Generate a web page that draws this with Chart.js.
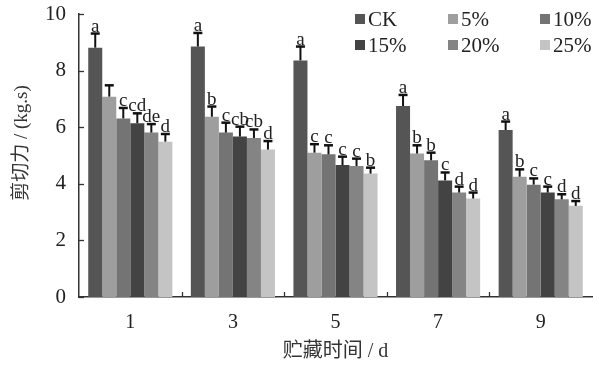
<!DOCTYPE html>
<html>
<head>
<meta charset="utf-8">
<script src="https://cdn.jsdelivr.net/npm/chart.js@4/dist/chart.umd.min.js"></script>
<style>
  html, body { margin: 0; padding: 0; background: #fff; }
  #wrap { width: 599px; height: 365px; position: relative; }
</style>
</head>
<body>
<div id="wrap"><canvas id="chart"></canvas></div>
<script>
const days = ["1", "3", "5", "7", "9"];
const seriesNames = ["CK", "5%", "10%", "15%", "20%", "25%"];
const seriesColors = ["#555555", "#9e9e9e", "#747474", "#434343", "#848484", "#c4c4c4"];

// mean shear force per series, one value per day
const ck   = [8.81, 8.85, 8.36, 6.75, 5.90];
const p5   = [7.08, 6.37, 5.10, 5.07, 4.25];
const p10  = [6.31, 5.81, 5.04, 4.83, 3.97];
const p15  = [6.14, 5.67, 4.66, 4.12, 3.69];
const p20  = [5.81, 5.62, 4.63, 3.69, 3.45];
const p25  = [5.49, 5.21, 4.36, 3.48, 3.22];

// error bar (upper) per series
const ckErr  = [0.50, 0.48, 0.49, 0.39, 0.30];
const p5Err  = [0.40, 0.36, 0.30, 0.29, 0.26];
const p10Err = [0.37, 0.35, 0.32, 0.27, 0.22];
const p15Err = [0.35, 0.35, 0.30, 0.28, 0.21];
const p20Err = [0.30, 0.30, 0.26, 0.21, 0.18];
const p25Err = [0.27, 0.30, 0.21, 0.21, 0.17];

// significance letters
const ckSig  = ["a", "a", "a", "a", "a"];
const p5Sig  = ["", "b", "c", "b", "b"];
const p10Sig = ["c", "c", "c", "b", "c"];
const p15Sig = ["cd", "cb", "c", "c", "c"];
const p20Sig = ["de", "cb", "c", "d", "d"];
const p25Sig = ["d", "d", "b", "d", "d"];

const yTicks = [0, 2, 4, 6, 8, 10];

const values = [ck, p5, p10, p15, p20, p25];
const errors = [ckErr, p5Err, p10Err, p15Err, p20Err, p25Err];
const letters = [ckSig, p5Sig, p10Sig, p15Sig, p20Sig, p25Sig];

const serif = "'Liberation Serif', 'Times New Roman', serif";
const cjk = "'Liberation Serif', 'Noto Sans CJK SC', serif";

const extras = {
  id: "extras",
  afterDatasetsDraw(chart) {
    const ctx = chart.ctx;
    const y = chart.scales.y;
    const area = chart.chartArea;
    ctx.save();

    // error bars + letters
    values.forEach((vals, s) => {
      const meta = chart.getDatasetMeta(s);
      meta.data.forEach((bar, i) => {
        const top = y.getPixelForValue(vals[i]);
        const cap = y.getPixelForValue(vals[i] + errors[s][i]);
        ctx.strokeStyle = "#111";
        ctx.lineWidth = 2;
        ctx.beginPath();
        ctx.moveTo(bar.x, top);
        ctx.lineTo(bar.x, cap);
        ctx.stroke();
        ctx.lineWidth = 2.5;
        ctx.beginPath();
        ctx.moveTo(bar.x - 4.5, cap);
        ctx.lineTo(bar.x + 4.5, cap);
        ctx.stroke();
        if (letters[s][i]) {
          ctx.fillStyle = "#222";
          ctx.font = "19px " + serif;
          ctx.textAlign = "center";
          ctx.textBaseline = "alphabetic";
          ctx.fillText(letters[s][i], bar.x, cap - 2);
        }
      });
    });

    // inward ticks
    ctx.strokeStyle = "#333";
    ctx.lineWidth = 1.3;
    yTicks.forEach(v => {
      const py = Math.round(y.getPixelForValue(v)) + 0.5;
      ctx.beginPath();
      ctx.moveTo(area.left, py);
      ctx.lineTo(area.left + 5, py);
      ctx.stroke();
    });
    const step = (area.right - area.left) / days.length;
    for (let k = 1; k < days.length; k++) {
      const px = Math.round(area.left + step * k) + 0.5;
      ctx.beginPath();
      ctx.moveTo(px, area.bottom);
      ctx.lineTo(px, area.bottom - 5);
      ctx.stroke();
    }

    // legend, 3 columns x 2 rows
    const colX = [355, 448, 540];
    const rowY = [19, 45];
    seriesNames.forEach((name, s) => {
      const cx = colX[s % 3];
      const cy = rowY[Math.floor(s / 3)];
      ctx.fillStyle = seriesColors[s];
      ctx.fillRect(cx, cy - 5, 10, 10);
      ctx.fillStyle = "#222";
      ctx.font = "21px " + serif;
      ctx.textAlign = "left";
      ctx.textBaseline = "middle";
      ctx.fillText(name, cx + 13, cy + 1);
    });

    // axis titles
    ctx.fillStyle = "#333";
    ctx.font = "20px " + cjk;
    ctx.textAlign = "center";
    ctx.textBaseline = "middle";
    ctx.fillText("贮藏时间 / d", (area.left + area.right) / 2, 352);
    ctx.save();
    ctx.translate(22, 143);
    ctx.rotate(-Math.PI / 2);
    ctx.font = "19px " + cjk;
    ctx.fillText("剪切力 / (kg.s)", 0, 0);
    ctx.restore();

    ctx.restore();
  }
};

new Chart(document.getElementById("chart"), {
  type: "bar",
  data: {
    labels: days,
    datasets: seriesNames.map((name, s) => ({
      label: name,
      data: values[s],
      backgroundColor: seriesColors[s],
      borderWidth: 0,
      categoryPercentage: 0.82,
      barPercentage: 1.0
    }))
  },
  options: {
    responsive: true,
    maintainAspectRatio: false,
    animation: false,
    layout: { padding: { top: 14, right: 7, left: 0, bottom: 0 } },
    plugins: {
      legend: { display: false },
      tooltip: { enabled: false }
    },
    scales: {
      x: {
        grid: { display: false },
        border: { display: true, color: "#333", width: 1.5 },
        ticks: { color: "#222", font: { family: serif, size: 20 }, padding: 6 },
        afterFit(scale) { scale.height = 68; }
      },
      y: {
        min: 0,
        max: 10,
        grid: { display: false },
        border: { display: true, color: "#333", width: 1.5 },
        ticks: {
          stepSize: 2,
          color: "#222",
          font: { family: serif, size: 21, lineHeight: 1 },
          padding: 5
        },
        afterBuildTicks(scale) { scale.ticks = yTicks.map(v => ({ value: v })); },
        afterFit(scale) {
          scale.width = 79;
          scale.paddingTop = 0;
          scale.paddingBottom = 0;
        }
      }
    }
  },
  plugins: [extras]
});
</script>
</body>
</html>
